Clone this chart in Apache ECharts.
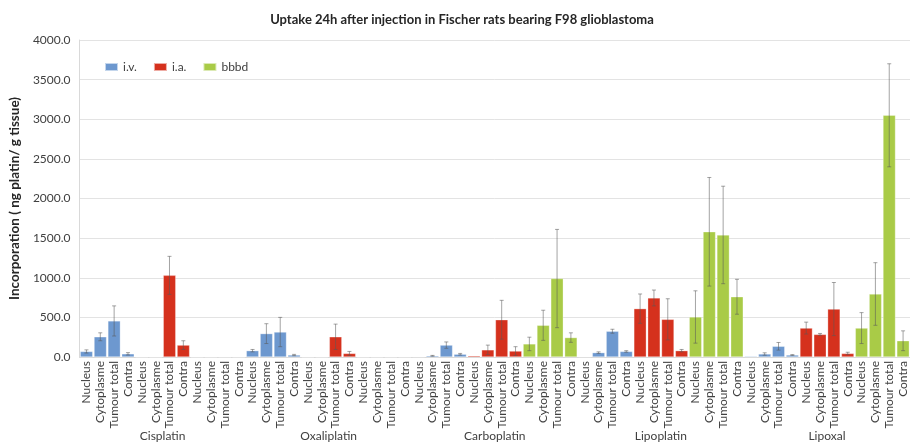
<!DOCTYPE html>
<html><head><meta charset="utf-8">
<script src="https://cdn.jsdelivr.net/npm/echarts@6/dist/echarts.min.js"></script>
<style>html,body{margin:0;padding:0;background:#fff}#c{width:910px;height:442px}</style>
</head><body><div id="c"></div>
<script>
const drugs = ['Cisplatin','Oxaliplatin','Carboplatin','Lipoplatin','Lipoxal'];
const routes = ['i.v.','i.a.','bbbd'];
const tissues = ['Nucleus','Cytoplasme','Tumour total','Contra'];
const yTicks = [0,500,1000,1500,2000,2500,3000,3500,4000];
// per drug: Nucleus, Cytoplasme, Tumour total, Contra
const ivMean   = [70,255,455,40,   80,295,315,25,   5,15,150,35,    5,55,325,70,     10,38,135,25];
const ivErr    = [20,50,190,15,    15,125,185,8,    0,5,40,10,      0,10,25,10,      0,15,48,5];
const iaMean   = [0,0,1030,150,    0,0,255,45,      15,90,470,75,   610,745,475,80,  365,285,605,45];
const iaErr    = [0,0,240,55,      0,0,160,25,      0,60,245,55,    185,100,260,15,  75,12,335,15];
const bbbdMean = [0,0,0,0,         0,0,0,0,         165,400,990,245, 505,1580,1540,760, 365,795,3050,205];
const bbbdErr  = [0,0,0,0,         0,0,0,0,         85,190,620,60,  330,685,615,220, 195,395,650,125];

const colors = ['#6d98cf','#d5311d','#a9cb47'];
const means = [ivMean, iaMean, bbbdMean];
const errs = [ivErr, iaErr, bbbdErr];

const cats = [];
const seriesData = [[],[],[]];
const errData = [];
drugs.forEach((d, di) => {
  routes.forEach((r, ri) => {
    tissues.forEach((t, ti) => {
      const idx = cats.length;
      cats.push(d + '|' + r + '|' + t);
      const k = di * 4 + ti;
      for (let s = 0; s < 3; s++) seriesData[s].push(s === ri ? means[ri][k] : null);
      if (means[ri][k] > 0 && errs[ri][k] > 0) errData.push([idx, means[ri][k], errs[ri][k]]);
    });
  });
});

const chart = echarts.init(document.getElementById('c'));
const font = 'Lato, "Noto Sans", sans-serif';
const series = routes.map((r, s) => ({
  name: r, type: 'bar', stack: 'all', data: seriesData[s],
  barCategoryGap: '10%',
  itemStyle: { color: colors[s], borderColor: 'rgba(255,255,255,0.6)', borderWidth: 0.5 }
}));
series.push({
  type: 'custom', xAxisIndex: 0, yAxisIndex: 0, data: errData, z: 5,
  encode: { x: 0, y: 1 }, silent: true,
  renderItem: function (params, api) {
    const x = api.value(0), m = api.value(1), e = api.value(2);
    const hi = api.coord([x, m + e]);
    const lo = api.coord([x, Math.max(m - e, 0)]);
    const cap = 2;
    const st = { stroke: 'rgba(90,90,90,0.55)', lineWidth: 1 };
    return { type: 'group', children: [
      { type: 'line', shape: { x1: hi[0], y1: hi[1], x2: lo[0], y2: lo[1] }, style: st },
      { type: 'line', shape: { x1: hi[0]-cap, y1: hi[1], x2: hi[0]+cap, y2: hi[1] }, style: st },
      { type: 'line', shape: { x1: lo[0]-cap, y1: lo[1], x2: lo[0]+cap, y2: lo[1] }, style: st }
    ]};
  }
});

chart.setOption({
  animation: false,
  backgroundColor: '#fff',
  textStyle: { fontFamily: font },
  title: { text: 'Uptake 24h after injection in Fischer rats bearing F98 glioblastoma', left: 457, top: 8, textAlign: 'center',
    textStyle: { fontSize: 13, fontWeight: 'bold', color: '#262626', fontFamily: font } },
  legend: { left: 99, top: 56, itemWidth: 13, itemHeight: 8, itemGap: 16, icon: 'rect',
    data: routes, textStyle: { fontSize: 12, color: '#404040', fontFamily: font } },
  grid: { left: 67, width: 851, top: 40, bottom: 85, containLabel: false },
  xAxis: [{
    type: 'category', data: cats, position: 'bottom',
    axisLine: { lineStyle: { color: '#d9d9d9' } },
    axisTick: { interval: 0, length: 65, lineStyle: { color: '#d9d9d9' } },
    axisLabel: { interval: 0, rotate: 90, margin: 4, fontSize: 12, color: '#404040', fontFamily: font,
      formatter: v => v.split('|')[2] },
    splitLine: { show: false }
  }, {
    type: 'category', data: drugs, position: 'bottom',
    axisLine: { show: false },
    axisTick: { interval: 0, length: 90, lineStyle: { color: '#d9d9d9' } },
    axisLabel: { interval: 0, margin: 73, fontSize: 12, color: '#404040', fontFamily: font }
  }],
  yAxis: {
    type: 'value', min: yTicks[0], max: yTicks[yTicks.length-1], interval: 500,
    name: 'Incorporation ( ng platin/ g tissue)', nameLocation: 'middle', nameGap: 51,
    nameTextStyle: { fontSize: 13.5, fontWeight: 'bold', color: '#262626', fontFamily: font },
    axisLine: { show: true, lineStyle: { color: '#d9d9d9' } },
    axisTick: { show: false },
    axisLabel: { fontSize: 12, color: '#404040', margin: 9, formatter: v => v.toFixed(1) },
    splitLine: { lineStyle: { color: '#e3e3e3' } }
  },
  series: series
});
</script></body></html>
